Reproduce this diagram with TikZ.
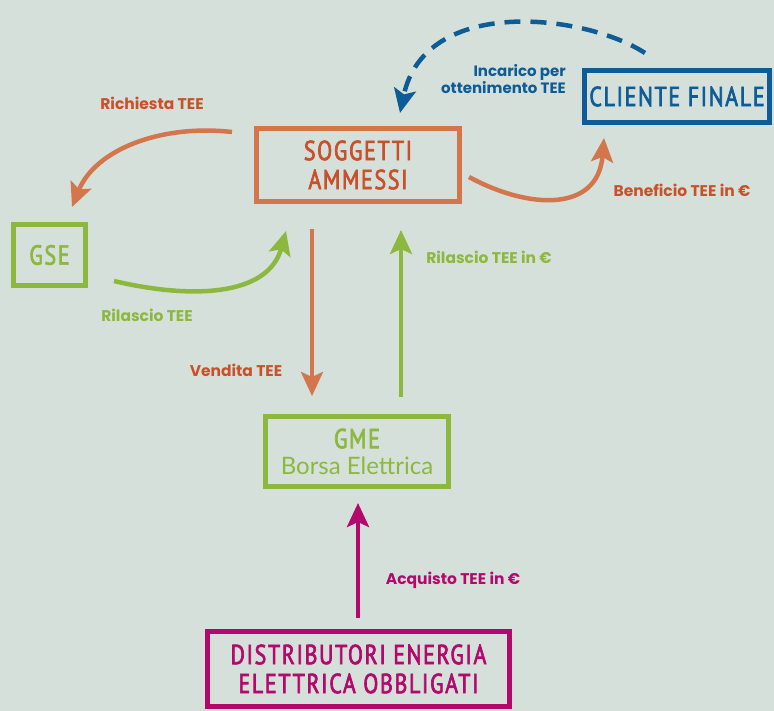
\documentclass[tikz,border=0pt]{standalone}
\usepackage{fontspec}
\setmainfont{Poppins}
\newfontfamily\boxfont[FakeStretch=0.8,LetterSpace=6,FakeBold=2.5]{PT Sans}
\newfontfamily\lightfont{Lato}
\usetikzlibrary{arrows.meta}
\definecolor{bgc}{HTML}{D5E0DA}
\definecolor{orl}{HTML}{D4764C}
\definecolor{ort}{HTML}{C9512A}
\definecolor{grn}{HTML}{8DB83F}
\definecolor{blu}{HTML}{0E5C96}
\definecolor{mag}{HTML}{B3096C}
\tikzset{
  box/.style={draw, line width=4.5pt, inner sep=0pt, align=center, font=\boxfont\fontsize{27.5}{29}\selectfont},
  lbl/.style={font=\bfseries\fontsize{15.5}{15}\selectfont, inner sep=0pt},
  arr/.style={line width=4.5pt, -{Stealth[length=24pt,width=22pt,inset=5pt]}},
}
\begin{document}
\begin{tikzpicture}[x=1pt,y=-1pt]
\fill[bgc] (0,0) rectangle (774,711);
\useasboundingbox (0,0) rectangle (774,711);

\node[box, draw=orl, text=ort, minimum width=203pt, minimum height=73pt] (sa) at (358,165) {SOGGETTI\\AMMESSI};
\node[box, draw=blu, text=blu, minimum width=185pt, minimum height=52pt] (cf) at (677,96.5) {CLIENTE FINALE};
\node[box, draw=grn, text=grn, minimum width=72pt, minimum height=61pt] (gse) at (49.5,255) {GSE};
\node[box, draw=grn, text=grn, minimum width=183pt, minimum height=70pt] (gme) at (357,451.5) {GME\\[-3pt]{\lightfont\fontsize{24}{26}\selectfont Borsa Elettrica}};
\node[box, draw=mag, text=mag, minimum width=302pt, minimum height=75pt] (de) at (358.5,669) {DISTRIBUTORI ENERGIA\\ELETTRICA OBBLIGATI};

% connector end points
\coordinate (r1) at (232,132); \coordinate (r2) at (72,207);
\coordinate (g1) at (114,281); \coordinate (g2) at (286,231);
\coordinate (b1) at (469,177); \coordinate (b2) at (604,138);
\coordinate (v1) at (312,229); \coordinate (v2) at (312,396);
\coordinate (u1) at (401,397); \coordinate (u2) at (401,230);
\coordinate (m1) at (358,618); \coordinate (m2) at (358,503);
\coordinate (d1) at (645,53);  \coordinate (d2) at (400,113);

\draw[arr, orl] (r1) .. controls (160,124) and (95,150) .. (r2);
\draw[arr, grn] (g1) .. controls (190,299) and (268,297) .. (g2);
\draw[arr, orl] (b1) .. controls (530,210) and (598,212) .. (b2);
\draw[arr, orl, line width=4pt] (v1) -- (v2);
\draw[arr, grn, line width=4pt] (u1) -- (u2);
\draw[arr, mag] (m1) -- (m2);
\draw[arr, blu, dash pattern=on 16pt off 10pt] (d1) .. controls (585,14) and (425,-5) .. (d2);

\node[lbl, text=ort] (l1) at (152,103) {Richiesta TEE};
\node[lbl, text=grn] (l2) at (147,315) {Rilascio TEE};
\node[lbl, text=ort] (l3) at (236,370) {Vendita TEE};
\node[lbl, text=grn] (l4) at (489,257) {Rilascio TEE in €};
\node[lbl, text=ort] (l5) at (682,190) {Beneficio TEE in €};
\node[lbl, text=mag] (l6) at (453,580) {Acquisto TEE in €};
\node[lbl, text=blu, align=right, anchor=east, font=\bfseries\fontsize{15}{15}\selectfont] (l7) at (566,79.5) {Incarico per\\ottenimento TEE};
\end{tikzpicture}
\end{document}
